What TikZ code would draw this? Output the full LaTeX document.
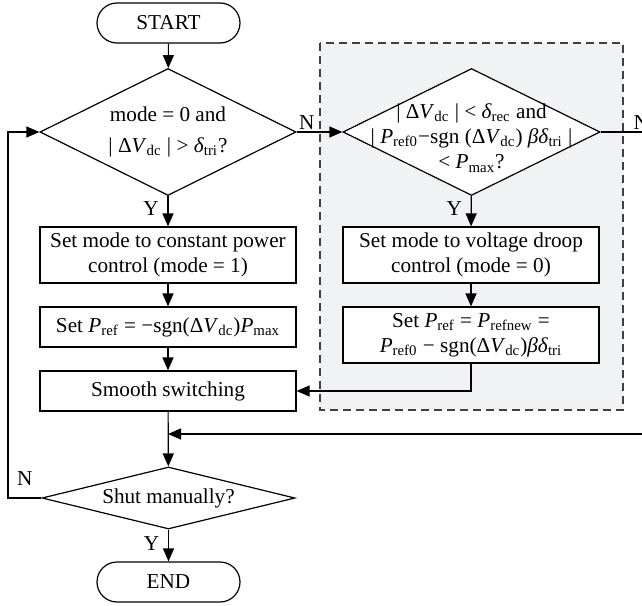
\documentclass[tikz,border=0pt]{standalone}
\usepackage{fontspec}
\setmainfont{Liberation Serif}
\usetikzlibrary{shapes.geometric,arrows.meta}
\definecolor{groupgray}{RGB}{241,242,244}
\newcommand{\dV}{Δ\textit{V}\textsubscript{dc}}
\newcommand{\sbs}[1]{\textsubscript{#1}}

\begin{document}
\begin{tikzpicture}[x=0.5pt,y=-0.5pt,
  font=\fontsize{10.6}{12.6}\selectfont,
  line width=0.6pt,
  arr/.style={-{Triangle[length=6.5pt,width=5.5pt]}},
  term/.style={draw, fill=white, rounded corners=10pt, minimum width=71.5pt, minimum height=20pt},
  proc/.style={draw, fill=white, align=center, minimum width=128pt, inner sep=1pt},
  dec/.style={draw, diamond, fill=white, inner sep=0pt, minimum width=128pt, minimum height=63.5pt}]
\useasboundingbox (0,0) rectangle (642,605);

% grey group on the right
\draw[dash pattern=on 4pt off 2.5pt, draw=black!75, fill=groupgray] (320,43) rectangle (623,410);

\node[term] (start) at (168.5,23) {START};
\node[dec, label={[align=center]center:mode = 0 and\\[2.5pt]| \dV\ | > \textit{δ}\sbs{tri}?}] (d1) at (168,132) {};
\node[proc, minimum height=28pt] (b1) at (168,255) {Set mode to constant power\\control (mode = 1)};
\node[proc, minimum height=20pt] (b2) at (168,327) {Set \textit{P}\sbs{ref} = −sgn(\dV)\textit{P}\sbs{max}};
\node[proc, minimum height=20pt] (b3) at (168,391) {Smooth switching};
\node[dec, minimum width=126.5pt, minimum height=31pt, label=center:Shut manually?] (d3) at (168.5,498) {};
\node[term] (end) at (168.5,582) {END};

\node[dec, minimum width=128.5pt, label={[align=center, yshift=-3pt]center:| \dV\ | < \textit{δ}\sbs{rec} and\\| \textit{P}\sbs{ref0}−sgn (\dV) \textit{βδ}\sbs{tri} |\\< \textit{P}\sbs{max}?}] (d2) at (471.5,132) {};
\node[proc, minimum height=28pt] (b4) at (471,255) {Set mode to voltage droop\\control (mode = 0)};
\node[proc, minimum height=28pt] (b5) at (471,335) {Set \textit{P}\sbs{ref} = \textit{P}\sbs{refnew} =\\\textit{P}\sbs{ref0} − sgn(\dV)\textit{βδ}\sbs{tri}};

\coordinate (join) at (168,434);
\coordinate (lft) at (8,498);
\coordinate (rt) at (662,132);

\foreach \a/\b in {start/d1, b1/b2, b2/b3, b3/d3, b4/b5}{\draw[arr] (\a) -- (\b);}
\draw[arr] (d1) -- node[pos=0.4, left=1pt]{Y} (b1);
\draw[arr] (d2) -- node[pos=0.4, left=1pt]{Y} (b4);
\draw[arr] (d3) -- node[pos=0.45, left=1pt]{Y} (end);
\draw[arr] (d1.east) -- (d2.west);
\node[anchor=south west, inner sep=1pt] at (d1.east) {N};
\draw[arr] (b5.south) |- (b3.east);
\draw[arr] (d2.east) -- (rt) |- (join);
\node[anchor=south west, inner sep=1pt] at (631,132) {N};
\draw[arr] (d3.west) -- node[above=2.5pt]{N} (lft) |- (d1.west);

\end{tikzpicture}
\end{document}
